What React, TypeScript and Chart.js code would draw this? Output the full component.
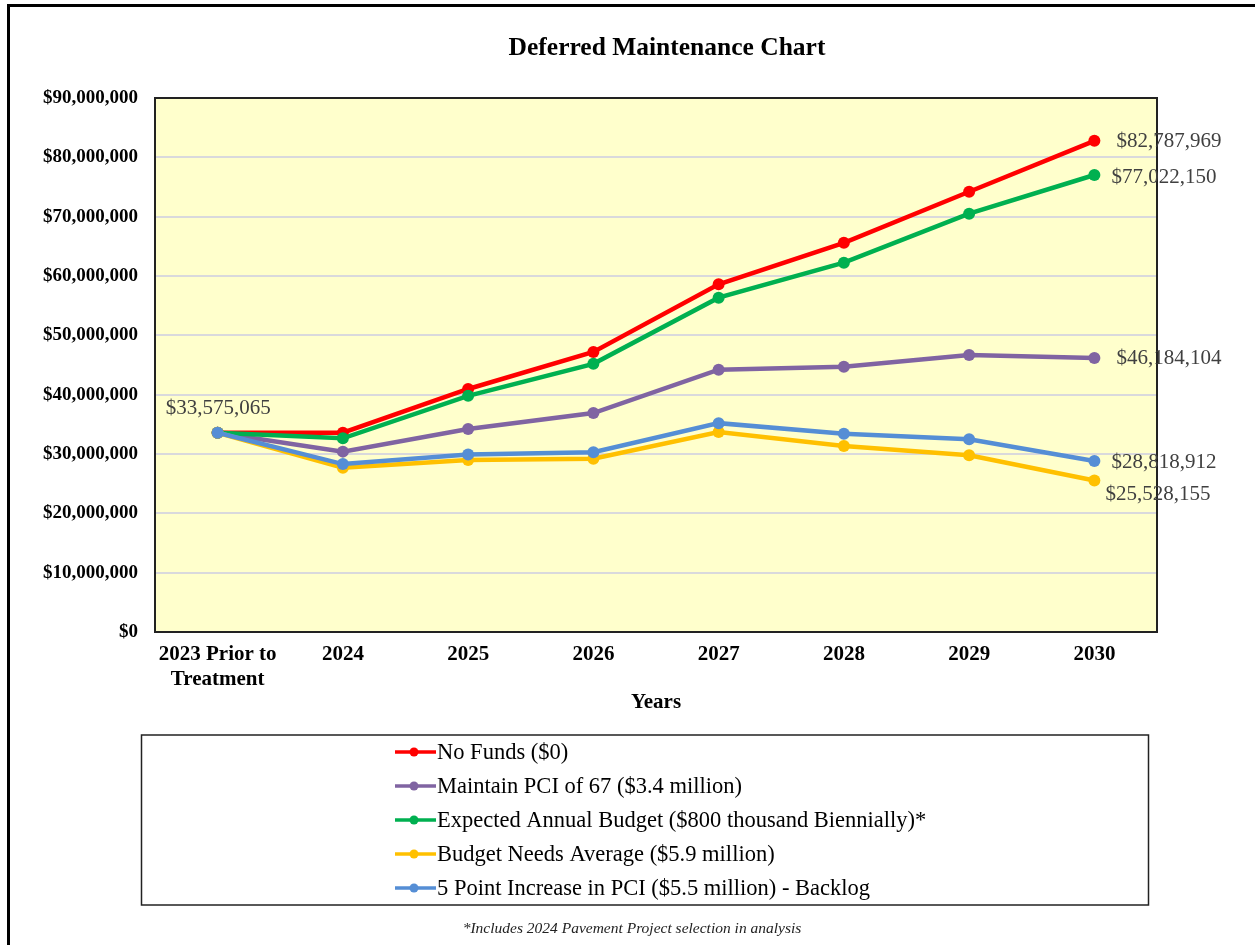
import React, { useEffect, useRef } from "react";
import { Chart, registerables } from "chart.js";

Chart.register(...registerables);

const categories: (string | string[])[] = [
  ["2023 Prior to", "Treatment"],
  "2024",
  "2025",
  "2026",
  "2027",
  "2028",
  "2029",
  "2030",
];

const noFunds = [33575065, 33600000, 40960000, 47200000, 58600000, 65600000, 74200000, 82787969];
const maintainPci = [33575065, 30400000, 34200000, 36900000, 44200000, 44700000, 46700000, 46184104];
const expectedBudget = [33575065, 32650000, 39800000, 45200000, 56350000, 62250000, 70500000, 77022150];
const budgetNeeds = [33575065, 27700000, 29000000, 29200000, 33700000, 31350000, 29800000, 25528155];
const pointIncrease = [33575065, 28300000, 29900000, 30300000, 35200000, 33400000, 32500000, 28818912];

const seriesNames = [
  "No Funds ($0)",
  "Maintain PCI of 67 ($3.4 million)",
  "Expected Annual Budget ($800 thousand Biennially)*",
  "Budget Needs Average ($5.9 million)",
  "5 Point Increase in PCI ($5.5 million) - Backlog",
];
const seriesColors = ["#FF0000", "#8064A2", "#00B050", "#FFC000", "#558ED5"];

const yTicks = [0, 10000000, 20000000, 30000000, 40000000, 50000000, 60000000, 70000000, 80000000, 90000000];

const chartTitle = "Deferred Maintenance Chart";
const xTitle = "Years";
const footnote = "*Includes 2024 Pavement Project selection in analysis";

const SERIF = '"Liberation Serif", "Times New Roman", serif';

const fmt = (v: number) => "$" + Math.round(v).toLocaleString("en-US");

const decorPlugin = {
  id: "decor",
  beforeDraw(chart: any) {
    const { ctx, chartArea: a } = chart;
    ctx.save();
    ctx.fillStyle = "#FFFFCC";
    ctx.fillRect(a.left, a.top, a.right - a.left, a.bottom - a.top);
    ctx.restore();
  },
  beforeDatasetsDraw(chart: any) {
    const { ctx, chartArea: a } = chart;
    ctx.save();
    ctx.strokeStyle = "#222222";
    ctx.lineWidth = 2;
    ctx.strokeRect(a.left, a.top, a.right - a.left, a.bottom - a.top);
    ctx.restore();
  },
  afterDraw(chart: any) {
    const { ctx } = chart;
    ctx.save();
    // title
    ctx.fillStyle = "#000";
    ctx.font = `bold 25.5px ${SERIF}`;
    ctx.textAlign = "center";
    ctx.textBaseline = "middle";
    ctx.fillText(chartTitle, 667, 48);

    // data labels
    ctx.font = `21px ${SERIF}`;
    ctx.fillStyle = "#404040";
    ctx.textAlign = "left";
    const labelSpecs: { ds: number; idx: number; dx: number; dy: number }[] = [
      { ds: 0, idx: 7, dx: 22, dy: 1 },
      { ds: 2, idx: 7, dx: 17, dy: 2 },
      { ds: 1, idx: 7, dx: 22, dy: 1 },
      { ds: 4, idx: 7, dx: 17, dy: 1 },
      { ds: 3, idx: 7, dx: 11, dy: 14 },
      { ds: 4, idx: 0, dx: -52, dy: -24 },
    ];
    labelSpecs.forEach((s) => {
      const meta = chart.getDatasetMeta(s.ds);
      const el = meta.data[s.idx];
      const v = chart.data.datasets[s.ds].data[s.idx];
      ctx.fillText(fmt(v), el.x + s.dx, el.y + s.dy);
    });

    // legend box
    ctx.strokeStyle = "#222222";
    ctx.lineWidth = 1.5;
    ctx.strokeRect(141.5, 735, 1007, 170);
    ctx.font = `22.5px ${SERIF}`;
    ctx.textBaseline = "middle";
    chart.data.datasets.forEach((d: any, i: number) => {
      const y = 752 + i * 34;
      ctx.strokeStyle = d.borderColor;
      ctx.lineWidth = 3.5;
      ctx.beginPath();
      ctx.moveTo(395, y);
      ctx.lineTo(436, y);
      ctx.stroke();
      ctx.fillStyle = d.borderColor;
      ctx.beginPath();
      ctx.arc(414, y, 4.5, 0, Math.PI * 2);
      ctx.fill();
      ctx.fillStyle = "#000";
      ctx.fillText(d.label, 437, y + 1);
    });

    // footnote
    ctx.font = `italic 15.5px ${SERIF}`;
    ctx.fillStyle = "#222";
    ctx.textAlign = "center";
    ctx.fillText(footnote, 632, 929);
    ctx.restore();
  },
};

export default function App() {
  const ref = useRef<HTMLCanvasElement>(null);

  useEffect(() => {
    if (!ref.current) return;
    const seriesData = [noFunds, maintainPci, expectedBudget, budgetNeeds, pointIncrease];
    const chart = new Chart(ref.current, {
      type: "line",
      data: {
        labels: categories,
        datasets: seriesData.map((d, i) => ({
          label: seriesNames[i],
          data: d,
          borderColor: seriesColors[i],
          backgroundColor: seriesColors[i],
          borderWidth: 4.5,
          pointRadius: 6,
          pointHoverRadius: 6,
          pointBorderWidth: 0,
          tension: 0,
          fill: false,
          order: 5 - i,
        })),
      },
      options: {
        responsive: false,
        animation: false,
        events: [],
        layout: { padding: { top: 98, right: 98, bottom: 223, left: 0 } },
        plugins: {
          legend: { display: false },
          title: { display: false },
          tooltip: { enabled: false },
        },
        scales: {
          x: {
            type: "category",
            offset: true,
            grid: { display: false, drawTicks: false },
            border: { display: false },
            ticks: {
              color: "#000",
              font: { family: SERIF, size: 21, weight: "bold", lineHeight: 1.15 },
              padding: 11,
              maxRotation: 0,
              autoSkip: false,
            },
            title: {
              display: true,
              text: xTitle,
              color: "#000",
              font: { family: SERIF, size: 21, weight: "bold", lineHeight: 1.2 },
              padding: { top: 4, bottom: 7 },
            },
            afterFit: (scale: any) => {
              scale.height = 90;
            },
          },
          y: {
            min: 0,
            max: 90000000,
            afterBuildTicks: (scale: any) => {
              scale.ticks = yTicks.map((v) => ({ value: v }));
            },
            grid: { color: "#D9D9DC", lineWidth: 2, drawTicks: false },
            border: { display: false },
            ticks: {
              color: "#000",
              font: { family: SERIF, size: 19, weight: "bold" },
              padding: 17,
              callback: (v: any) => fmt(Number(v)),
            },
            afterFit: (scale: any) => {
              scale.width = 155;
            },
          },
        },
      },
      plugins: [decorPlugin],
    } as any);
    return () => chart.destroy();
  }, []);

  return (
    <div style={{ position: "fixed", left: 0, top: 0, width: 1255, height: 945, overflow: "hidden", background: "#fff" }}>
      <div
        style={{
          position: "absolute",
          left: 7,
          top: 4,
          width: 1270,
          height: 980,
          border: "3px solid #000",
          boxSizing: "border-box",
        }}
      />
      <canvas ref={ref} width={1255} height={945} style={{ position: "absolute", left: 0, top: 0, width: 1255, height: 945 }} />
    </div>
  );
}
